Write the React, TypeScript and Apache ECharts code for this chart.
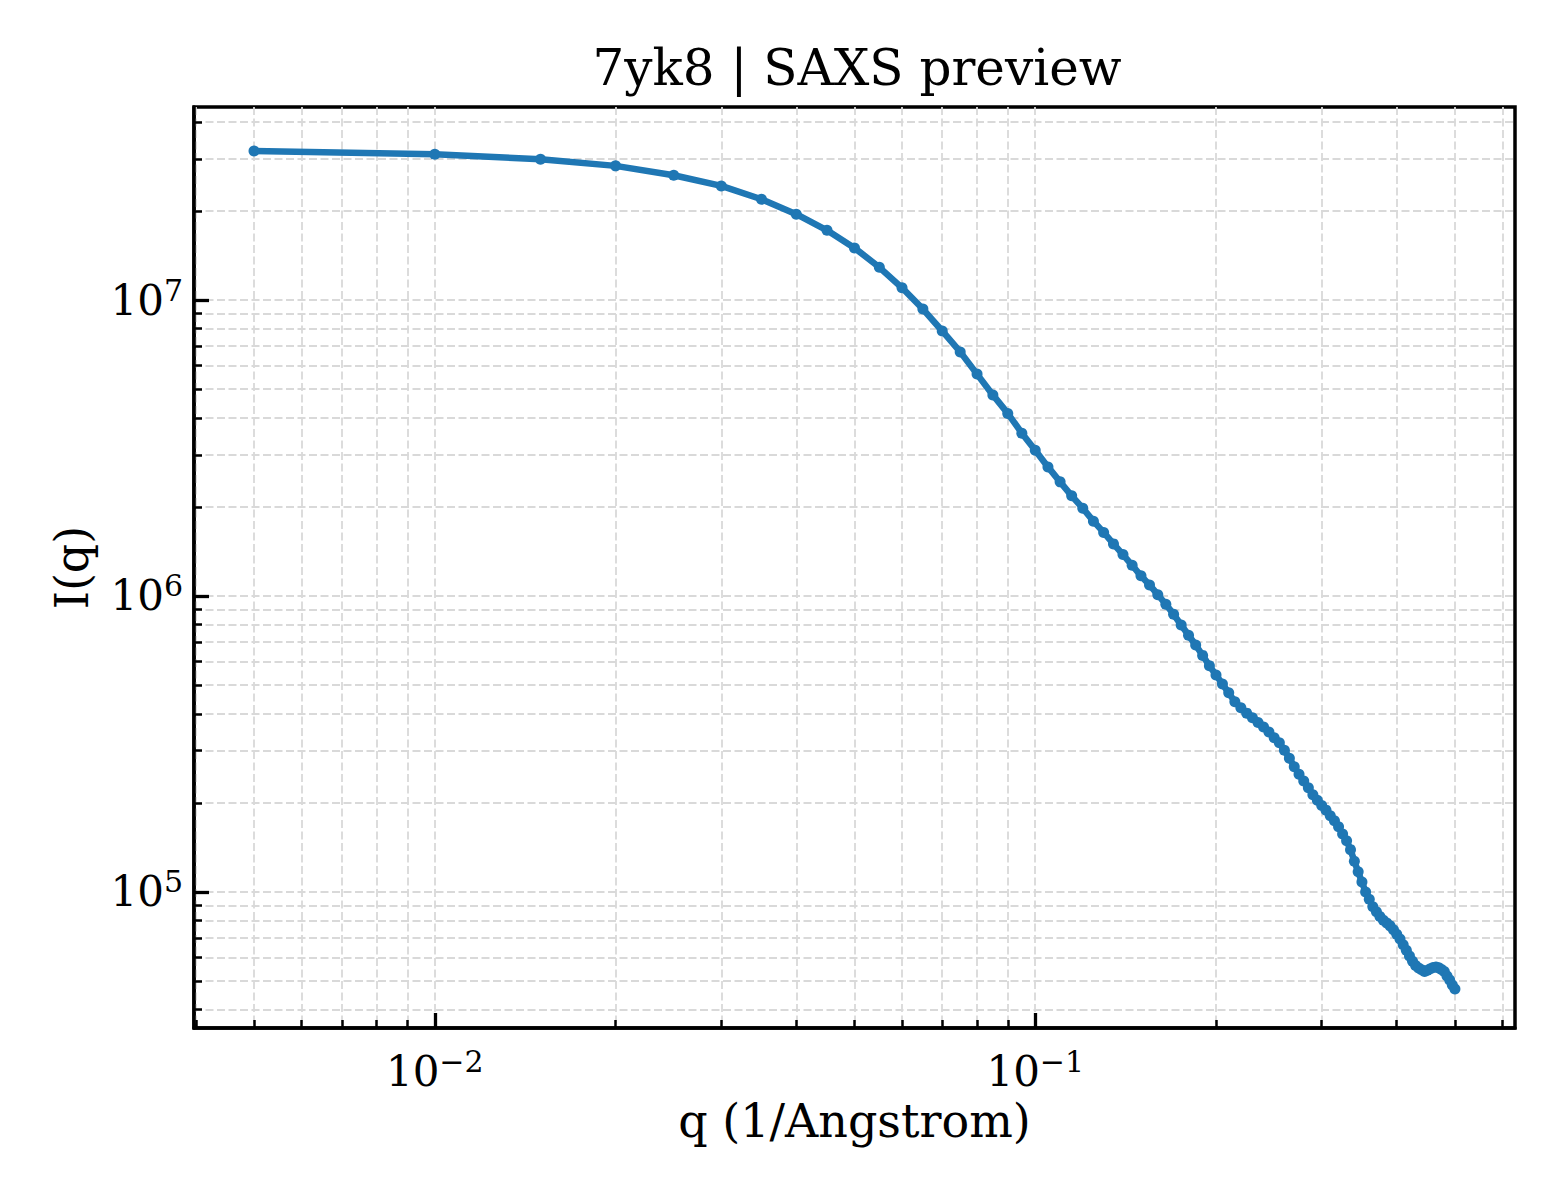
import { useEffect, useRef } from "react";
import * as echarts from "echarts";

// scattering vector q (1/Angstrom)
const Q_VALUES = [
  0.005, 0.01, 0.015, 0.02, 0.025, 0.03, 0.035, 0.04, 0.045, 0.05,
  0.055, 0.06, 0.065, 0.07, 0.075, 0.08, 0.085, 0.09, 0.095, 0.1,
  0.105, 0.11, 0.115, 0.12, 0.125, 0.13, 0.135, 0.14, 0.145, 0.15,
  0.155, 0.16, 0.165, 0.17, 0.175, 0.18, 0.185, 0.19, 0.195, 0.2,
  0.205, 0.21, 0.215, 0.22, 0.225, 0.23, 0.235, 0.24, 0.245, 0.25,
  0.255, 0.26, 0.265, 0.27, 0.275, 0.28, 0.285, 0.29, 0.295, 0.3,
  0.305, 0.31, 0.315, 0.32, 0.325, 0.33, 0.335, 0.34, 0.345, 0.35,
  0.355, 0.36, 0.365, 0.37, 0.375, 0.38, 0.385, 0.39, 0.395, 0.4,
  0.405, 0.41, 0.415, 0.42, 0.425, 0.43, 0.435, 0.44, 0.445, 0.45,
  0.455, 0.46, 0.465, 0.47, 0.475, 0.48, 0.485, 0.49, 0.495, 0.5,
];

// intensity I(q)
const INTENSITY = [
  3.19e7, 3.11e7, 2.99e7, 2.84e7, 2.64e7, 2.43e7, 2.19e7, 1.95e7, 1.72e7, 1.5e7,
  1.29e7, 1.1e7, 9.32e6, 7.86e6, 6.68e6, 5.62e6, 4.78e6, 4.14e6, 3.55e6, 3.11e6,
  2.73e6, 2.43e6, 2.18e6, 1.98e6, 1.79e6, 1.64e6, 1.5e6, 1.38e6, 1.27e6, 1.17e6,
  1.09e6, 1.01e6, 9.38e5, 8.67e5, 7.98e5, 7.37e5, 6.83e5, 6.3e5, 5.81e5, 5.41e5,
  5.04e5, 4.71e5, 4.39e5, 4.19e5, 4.02e5, 3.88e5, 3.74e5, 3.61e5, 3.47e5, 3.32e5,
  3.19e5, 3.01e5, 2.83e5, 2.65e5, 2.5e5, 2.37e5, 2.25e5, 2.13e5, 2.04e5, 1.96e5,
  1.89e5, 1.81e5, 1.74e5, 1.66e5, 1.57e5, 1.49e5, 1.39e5, 1.27e5, 1.17e5, 1.08e5,
  1.0e5, 9.45e4, 8.92e4, 8.58e4, 8.26e4, 8.03e4, 7.86e4, 7.68e4, 7.45e4, 7.19e4,
  6.94e4, 6.63e4, 6.35e4, 6.08e4, 5.83e4, 5.64e4, 5.53e4, 5.46e4, 5.39e4, 5.44e4,
  5.5e4, 5.56e4, 5.58e4, 5.54e4, 5.47e4, 5.39e4, 5.2e4, 5.04e4, 4.85e4, 4.7e4,
];

const X_RANGE = [0.003972, 0.6295];
const Y_RANGE = [3.47e4, 4.49e7];

const X_MAJOR_TICKS = [0.01, 0.1];
const X_MINOR_TICKS = [
  0.004, 0.005, 0.006, 0.007, 0.008, 0.009,
  0.02, 0.03, 0.04, 0.05, 0.06, 0.07, 0.08, 0.09,
  0.2, 0.3, 0.4, 0.5, 0.6,
];
const Y_MAJOR_TICKS = [1e5, 1e6, 1e7];
const Y_MINOR_TICKS = [
  4e4, 5e4, 6e4, 7e4, 8e4, 9e4,
  2e5, 3e5, 4e5, 5e5, 6e5, 7e5, 8e5, 9e5,
  2e6, 3e6, 4e6, 5e6, 6e6, 7e6, 8e6, 9e6,
  2e7, 3e7, 4e7,
];

const FONT = "DejaVu Serif";
const LINE_COLOR = "#1f77b4";
const GRID_COLOR = "#d9d9d9";

const powerLabel = (value: number) => {
  const exp = Math.round(Math.log10(value));
  const expText = exp < 0 ? "\u2212" + Math.abs(exp) : String(exp);
  return `{b|10}{s|${expText}}`;
};

const labelRich = {
  b: { fontSize: 42, lineHeight: 50, fontFamily: FONT, color: "#000" },
  s: {
    fontSize: 30,
    lineHeight: 14,
    verticalAlign: "top",
    fontFamily: FONT,
    color: "#000",
  },
};

const gridLine = {
  show: true,
  lineStyle: { color: GRID_COLOR, width: 1.8, type: [8, 3.5] },
};

export default function App() {
  const chartRef = useRef<HTMLDivElement>(null);

  useEffect(() => {
    if (!chartRef.current) return;
    const chart = echarts.init(chartRef.current, null, { renderer: "svg" });

    const points = Q_VALUES.map((q, i) => [q, INTENSITY[i]]);

    chart.setOption({
      animation: false,
      backgroundColor: "#ffffff",
      title: {
        text: "7yk8 | SAXS preview",
        left: 857,
        top: 43,
        textAlign: "center",
        padding: 0,
        textStyle: {
          fontFamily: FONT,
          fontSize: 50,
          fontWeight: "normal",
          color: "#000",
          lineHeight: 50,
        },
      },
      grid: {
        left: 194,
        top: 107,
        width: 1321,
        height: 921,
        show: true,
        borderColor: "#000",
        borderWidth: 3.5,
        backgroundColor: "transparent",
        outerBoundsMode: "none",
      },
      xAxis: [
        {
          // major ticks, labels, axis name
          type: "log",
          logBase: 10,
          position: "bottom",
          min: X_RANGE[0],
          max: X_RANGE[1],
          name: "q (1/Angstrom)",
          nameLocation: "middle",
          nameGap: 70,
          nameTextStyle: {
            fontFamily: FONT,
            fontSize: 46,
            color: "#000",
            lineHeight: 46,
          },
          axisLine: { show: true, lineStyle: { color: "#000", width: 3.5 } },
          axisTick: {
            show: true,
            inside: true,
            length: 15,
            customValues: X_MAJOR_TICKS,
            lineStyle: { color: "#000", width: 3.3 },
          },
          axisLabel: {
            show: true,
            margin: 18,
            customValues: X_MAJOR_TICKS,
            formatter: powerLabel,
            rich: labelRich,
          },
          splitLine: gridLine,
          minorTick: { show: false },
          minorSplitLine: { show: false },
        },
        {
          // minor ticks and minor grid
          type: "log",
          logBase: 10,
          position: "bottom",
          min: X_RANGE[0],
          max: X_RANGE[1],
          axisLine: { show: false },
          axisTick: {
            show: true,
            inside: true,
            length: 8,
            customValues: X_MINOR_TICKS,
            lineStyle: { color: "#000", width: 2.5 },
          },
          axisLabel: { show: false },
          splitLine: gridLine,
        },
      ],
      yAxis: [
        {
          type: "log",
          logBase: 10,
          position: "left",
          min: Y_RANGE[0],
          max: Y_RANGE[1],
          name: "I(q)",
          nameLocation: "middle",
          nameGap: 99,
          nameRotate: 90,
          nameTextStyle: {
            fontFamily: FONT,
            fontSize: 46,
            color: "#000",
            lineHeight: 46,
          },
          axisLine: { show: true, lineStyle: { color: "#000", width: 3.5 } },
          axisTick: {
            show: true,
            inside: true,
            length: 15,
            customValues: Y_MAJOR_TICKS,
            lineStyle: { color: "#000", width: 3.3 },
          },
          axisLabel: {
            show: true,
            margin: 11,
            customValues: Y_MAJOR_TICKS,
            formatter: powerLabel,
            rich: labelRich,
          },
          splitLine: gridLine,
          minorTick: { show: false },
          minorSplitLine: { show: false },
        },
        {
          type: "log",
          logBase: 10,
          position: "left",
          min: Y_RANGE[0],
          max: Y_RANGE[1],
          axisLine: { show: false },
          axisTick: {
            show: true,
            inside: true,
            length: 8,
            customValues: Y_MINOR_TICKS,
            lineStyle: { color: "#000", width: 2.5 },
          },
          axisLabel: { show: false },
          splitLine: gridLine,
        },
      ],
      series: [
        {
          name: "I(q)",
          type: "line",
          xAxisIndex: 0,
          yAxisIndex: 0,
          data: points,
          symbol: "circle",
          symbolSize: 11,
          showSymbol: true,
          showAllSymbol: true,
          itemStyle: { color: LINE_COLOR },
          lineStyle: { color: LINE_COLOR, width: 6.5 },
          z: 5,
        },
      ],
    });

    return () => {
      chart.dispose();
    };
  }, []);

  return (
    <div
      ref={chartRef}
      style={{ position: "absolute", left: 0, top: 0, width: 1560, height: 1200 }}
    />
  );
}
